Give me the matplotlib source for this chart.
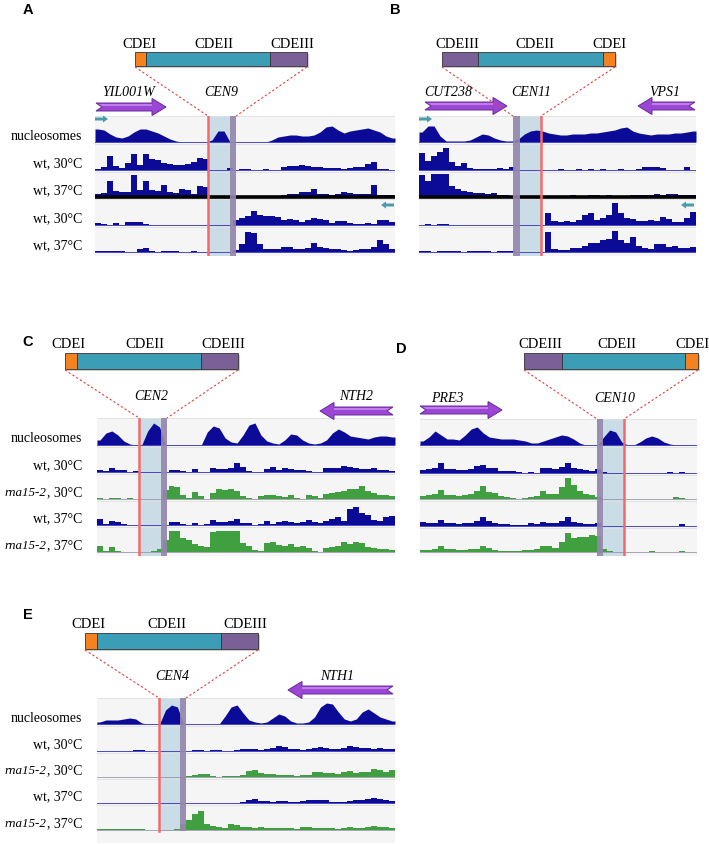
import numpy as np
import matplotlib.pyplot as plt
from matplotlib.patches import Rectangle, Polygon

plt.rcParams['font.family'] = ['Liberation Serif', 'DejaVu Serif']

# ---- track profiles (pixel heights above each baseline) ----
# panel A (CEN9)
a_nuc = [13, 12, 8, 5, 4, 6, 10, 13, 13, 11, 9, 6, 3, 1, 0, 0, 0, 0, 0, 2,
         11, 11, 0, 0, 0, 0, 0, 0, 0, 2, 5, 6, 7, 7, 6, 6, 7, 10, 15, 16,
         12, 9, 11, 12, 13, 14, 12, 10, 6, 4]
a_wt30 = [1, 3, 14, 4, 2, 7, 16, 5, 16, 11, 10, 7, 6, 5, 5, 6, 8, 12, 11, 0,
          0, 0, 2, 0, 1, 1, 0, 0, 1, 0, 0, 3, 4, 4, 5, 4, 3, 3, 2, 2,
          2, 1, 2, 3, 3, 6, 8, 1, 1, 0]
a_wt37 = [3, 4, 16, 6, 5, 5, 22, 7, 16, 7, 6, 12, 5, 4, 8, 7, 3, 11, 10, 0,
          0, 0, 0, 0, 1, 1, 1, 1, 1, 1, 1, 2, 3, 3, 5, 5, 8, 3, 3, 2,
          3, 5, 4, 3, 3, 3, 12, 2, 2, 2]
a_wt30_rev = [2, 1, 0, 2, 0, 3, 3, 3, 1, 0, 0, 0, 0, 0, 0, 0, 0, 0, 0, 0,
              0, 0, 0, 5, 7, 9, 14, 10, 9, 9, 8, 5, 6, 5, 3, 5, 7, 6, 5, 2,
              4, 4, 2, 1, 1, 2, 1, 5, 5, 3]
a_wt37_rev = [1, 1, 1, 1, 1, 0, 0, 3, 4, 1, 0, 1, 1, 1, 0, 0, 1, 0, 0, 0,
              0, 0, 0, 2, 8, 20, 19, 8, 3, 3, 3, 5, 5, 3, 3, 4, 9, 5, 4, 3,
              3, 2, 1, 2, 3, 3, 5, 12, 8, 3]

# panel B (CEN11)
b_nuc = [10, 16, 16, 6, 1, 1, 1, 1, 2, 5, 8, 7, 4, 2, 1, 1, 3, 8, 11, 12,
         11, 9, 8, 7, 7, 8, 8, 8, 9, 9, 10, 11, 12, 14, 15, 11, 9, 8, 7, 8,
         8, 8, 9, 9, 10, 11]
b_wt30 = [17, 9, 14, 18, 22, 8, 4, 7, 2, 1, 1, 1, 1, 2, 1, 3, 0, 0, 0, 0,
          0, 0, 0, 1, 0, 0, 1, 0, 1, 0, 1, 0, 0, 1, 0, 0, 1, 3, 3, 3,
          2, 0, 0, 0, 3, 0]
b_wt37 = [22, 16, 23, 23, 23, 11, 8, 6, 5, 4, 4, 3, 4, 2, 2, 1, 1, 1, 1, 1,
          1, 1, 1, 1, 1, 2, 1, 1, 2, 2, 1, 2, 1, 1, 1, 2, 2, 2, 2, 3,
          2, 3, 3, 2, 2, 2]
b_wt30_rev = [0, 1, 0, 1, 1, 0, 0, 0, 0, 0, 0, 0, 0, 0, 0, 0, 0, 0, 0, 0,
              0, 12, 4, 3, 4, 3, 5, 10, 12, 5, 7, 10, 22, 12, 7, 6, 4, 4, 5, 4,
              8, 6, 3, 3, 7, 13]
b_wt37_rev = [1, 1, 0, 1, 1, 1, 1, 0, 1, 1, 1, 1, 0, 1, 1, 1, 0, 0, 0, 0,
              0, 20, 3, 2, 2, 4, 4, 6, 9, 9, 12, 13, 21, 12, 9, 15, 6, 4, 3, 8,
              8, 5, 6, 4, 4, 5]

# panel C (CEN2)
c_nuc = [5, 12, 14, 10, 4, 1, 0, 0, 14, 22, 18, 0, 0, 0, 0, 0, 0, 0, 13, 19,
         17, 7, 3, 2, 10, 20, 22, 10, 4, 2, 1, 5, 11, 10, 5, 2, 1, 2, 5, 12,
         16, 13, 9, 8, 7, 6, 8, 9, 9, 8]
c_wt30 = [2, 1, 4, 2, 2, 0, 1, 0, 0, 0, 0, 0, 2, 2, 1, 0, 3, 0, 0, 4,
          3, 3, 4, 9, 5, 1, 0, 0, 3, 5, 2, 4, 3, 2, 2, 1, 0, 0, 4, 4,
          4, 6, 5, 4, 3, 3, 4, 2, 2, 1]
c_rna30 = [1, 0, 1, 1, 0, 1, 0, 0, 0, 0, 0, 9, 13, 12, 4, 1, 7, 3, 0, 6,
           10, 9, 10, 8, 3, 1, 0, 3, 4, 4, 3, 2, 4, 1, 0, 4, 3, 1, 5, 6,
           7, 8, 10, 10, 13, 8, 6, 4, 4, 3]
c_wt37 = [6, 1, 4, 3, 1, 0, 0, 0, 0, 0, 0, 0, 3, 3, 1, 0, 2, 0, 1, 5,
          3, 3, 4, 6, 2, 2, 0, 1, 4, 1, 3, 4, 3, 2, 3, 5, 3, 2, 4, 6,
          8, 4, 16, 18, 12, 10, 5, 4, 8, 9]
c_rna37 = [6, 1, 5, 1, 0, 0, 0, 0, 0, 1, 3, 12, 21, 21, 14, 12, 8, 6, 5, 20,
           21, 21, 21, 21, 9, 6, 2, 1, 9, 10, 7, 6, 8, 5, 6, 4, 1, 0, 4, 5,
           6, 10, 8, 10, 9, 5, 4, 3, 3, 2]

# panel D (CEN10)
d_nuc = [4, 8, 14, 10, 6, 6, 5, 10, 16, 18, 12, 8, 7, 6, 6, 6, 5, 4, 2, 2,
         4, 6, 8, 10, 9, 6, 2, 0, 0, 0, 8, 15, 13, 3, 0, 0, 3, 7, 9, 7,
         3, 1, 0, 0, 0, 0]
d_wt30 = [3, 4, 5, 10, 4, 4, 3, 3, 4, 7, 8, 5, 5, 2, 2, 2, 1, 0, 1, 0,
          5, 5, 4, 6, 10, 5, 4, 3, 2, 4, 1, 0, 0, 0, 0, 0, 0, 0, 0, 0,
          0, 1, 0, 1, 0, 0]
d_rna30 = [3, 4, 5, 9, 4, 4, 3, 4, 5, 8, 13, 7, 6, 3, 2, 1, 0, 1, 2, 3,
           8, 5, 5, 12, 21, 14, 8, 5, 4, 2, 0, 0, 0, 0, 0, 0, 0, 0, 0, 0,
           0, 0, 2, 1, 0, 0]
d_wt37 = [4, 3, 3, 6, 3, 3, 2, 3, 3, 5, 9, 5, 3, 2, 2, 1, 1, 1, 3, 2,
          4, 3, 3, 5, 9, 4, 3, 2, 2, 3, 0, 0, 0, 0, 0, 0, 0, 0, 0, 0,
          0, 0, 0, 2, 0, 0]
d_rna37 = [2, 2, 3, 6, 3, 3, 2, 2, 3, 3, 6, 4, 2, 1, 1, 1, 1, 2, 2, 3,
           6, 6, 4, 10, 19, 14, 15, 15, 17, 16, 3, 1, 0, 0, 0, 0, 0, 0, 1, 0,
           0, 0, 0, 1, 0, 0]

# panel E (CEN4)
e_nuc = [2, 4, 4, 4, 5, 6, 5, 1, 0, 0, 0, 14, 19, 17, 0, 0, 0, 0, 0, 0,
         0, 8, 17, 19, 11, 4, 2, 1, 2, 6, 10, 8, 3, 1, 1, 2, 7, 17, 21, 20,
         12, 5, 3, 5, 12, 15, 11, 7, 5, 3]
e_wt30 = [0, 0, 0, 0, 0, 0, 1, 1, 0, 0, 0, 0, 0, 0, 0, 0, 1, 1, 0, 1,
          1, 0, 0, 1, 2, 2, 2, 1, 2, 3, 5, 4, 2, 2, 1, 2, 3, 4, 3, 2,
          2, 3, 5, 4, 3, 3, 2, 3, 2, 2]
e_rna30 = [0, 0, 0, 0, 0, 0, 0, 0, 0, 0, 0, 0, 0, 0, 0, 1, 2, 3, 3, 1,
           0, 1, 1, 1, 2, 6, 7, 4, 3, 3, 2, 2, 2, 1, 2, 2, 5, 5, 4, 4,
           3, 5, 6, 4, 5, 5, 8, 7, 5, 7]
e_wt37 = [0, 0, 0, 0, 0, 0, 0, 0, 0, 0, 0, 0, 0, 0, 0, 0, 0, 0, 0, 0,
          0, 0, 0, 0, 1, 3, 4, 2, 2, 1, 2, 2, 1, 1, 2, 3, 3, 3, 3, 1,
          1, 1, 2, 3, 3, 4, 5, 4, 3, 2]
e_rna37 = [1, 1, 1, 1, 1, 1, 1, 1, 0, 0, 0, 0, 0, 1, 6, 10, 16, 19, 6, 4,
           3, 2, 6, 5, 3, 3, 2, 3, 2, 2, 2, 2, 2, 1, 3, 3, 2, 2, 2, 2,
           1, 2, 3, 2, 2, 3, 4, 3, 3, 2]

labels_wt = [('', 'nucleosomes'), ('', 'wt, 30°C'), ('', 'wt, 37°C'),
             ('', 'wt, 30°C'), ('', 'wt, 37°C')]
labels_rna = [('', 'nucleosomes'), ('', 'wt, 30°C'), ('rna15-2', ', 30°C'),
              ('', 'wt, 37°C'), ('rna15-2', ', 37°C')]

BLUE = '#0b0b98'
GREEN = '#40a040'
ORANGE = '#f5821f'
TEAL = '#3b9db6'
PURP = '#7b5f97'
BG = '#f5f5f5'

W, H = 709, 844
fig = plt.figure(figsize=(W / 100, H / 100), dpi=100)
ax0 = fig.add_axes([0, 0, 1, 1], zorder=10)
ax0.set_xlim(0, W)
ax0.set_ylim(H, 0)
ax0.axis('off')


def px_axes(x0, y0, x1, y1):
    return fig.add_axes([x0 / W, 1 - y1 / H, (x1 - x0) / W, (y1 - y0) / H])


def gene_arrow(xs, xe, yc):
    d = 1 if xe > xs else -1
    L = abs(xe - xs)
    hl, sh, hh, nd = 14, 4, 8.5, 6
    pts = [(0, -sh), (L - hl, -sh), (L - hl, -hh), (L, 0), (L - hl, hh),
           (L - hl, sh), (0, sh), (nd, 0)]
    pts = [(xs + d * u, yc + v) for u, v in pts]
    ax0.add_patch(Polygon(pts, closed=True, fc='#9c46d6', ec='#66299a', lw=0.7))
    # lighter upper half of the shaft
    hi = [(nd * 0.5, -sh + 0.8), (L - hl, -sh + 0.8), (L - hl, -1), (nd, -1)]
    hi = [(xs + d * u, yc + v) for u, v in hi]
    ax0.add_patch(Polygon(hi, closed=True, fc='#c07ee8', ec='none'))


def small_arrow(xs, xe, yc):
    d = 1 if xe > xs else -1
    L = abs(xe - xs)
    pts = [(0, -1.5), (L - 5, -1.5), (L - 5, -3.5), (L, 0), (L - 5, 3.5),
           (L - 5, 1.5), (0, 1.5)]
    pts = [(xs + d * u, yc + v) for u, v in pts]
    ax0.add_patch(Polygon(pts, closed=True, fc='#4a9caa', ec='none'))


panels = [
    dict(letter='A', lxy=(28, 10), x0=95, x1=395, top=116, bottom=256,
         base=[142, 170, 197, 225, 252],
         tracks=[a_nuc, a_wt30, a_wt37, a_wt30_rev, a_wt37_rev],
         colors=[BLUE] * 5, labels=labels_wt, thick=2,
         red=208, lblue=(208, 230), purp=(230, 236),
         bar=(52, 66, [(135, 146, ORANGE), (146, 270, TEAL), (270, 307, PURP)]),
         cde=[('CDEI', 139), ('CDEII', 214), ('CDEIII', 292)],
         dash=((135, 208), (307, 236)),
         genes=[('YIL001W', 129, 93), ('CEN9', 221, 93)],
         arrows=[(96, 166, 107)], small=[(95, 108, 119), (394, 381, 205)]),
    dict(letter='B', lxy=(395, 10), x0=419, x1=696, top=116, bottom=256,
         base=[142, 170, 197, 225, 252],
         tracks=[b_nuc, b_wt30, b_wt37, b_wt30_rev, b_wt37_rev],
         colors=[BLUE] * 5, labels=None, thick=2,
         red=541, lblue=(520, 541), purp=(513, 520),
         bar=(52, 66, [(442, 478, PURP), (478, 603, TEAL), (603, 615, ORANGE)]),
         cde=[('CDEIII', 457), ('CDEII', 535), ('CDEI', 609)],
         dash=((442, 513), (615, 541)),
         genes=[('CUT238', 448, 93), ('CEN11', 531, 93), ('VPS1', 665, 93)],
         arrows=[(425, 507, 106), (695, 638, 106)],
         small=[(419, 432, 119), (694, 681, 205)]),
    dict(letter='C', lxy=(28, 342), x0=97, x1=395, top=418, bottom=556,
         base=[445, 472, 499, 525, 552],
         tracks=[c_nuc, c_wt30, c_rna30, c_wt37, c_rna37],
         colors=[BLUE, BLUE, GREEN, BLUE, GREEN], labels=labels_rna, thick=None,
         red=139, lblue=(139, 161), purp=(161, 167),
         bar=(353, 369, [(65, 77, ORANGE), (77, 201, TEAL), (201, 238, PURP)]),
         cde=[('CDEI', 68), ('CDEII', 145), ('CDEIII', 223)],
         dash=((65, 139), (238, 167)),
         genes=[('CEN2', 151, 396), ('NTH2', 356, 396)],
         arrows=[(393, 320, 411)], small=[]),
    dict(letter='D', lxy=(401, 349), x0=420, x1=697, top=419, bottom=556,
         base=[445, 473, 499, 526, 552],
         tracks=[d_nuc, d_wt30, d_rna30, d_wt37, d_rna37],
         colors=[BLUE, BLUE, GREEN, BLUE, GREEN], labels=None, thick=None,
         red=624, lblue=(603, 624), purp=(597, 603),
         bar=(353, 369, [(524, 562, PURP), (562, 685, TEAL), (685, 698, ORANGE)]),
         cde=[('CDEIII', 540), ('CDEII', 617), ('CDEI', 692)],
         dash=((524, 597), (698, 624)),
         genes=[('PRE3', 447, 398), ('CEN10', 615, 398)],
         arrows=[(420, 502, 410)], small=[]),
    dict(letter='E', lxy=(28, 615), x0=97, x1=395, top=698, bottom=843,
         base=[724, 751, 777, 803, 830],
         tracks=[e_nuc, e_wt30, e_rna30, e_wt37, e_rna37],
         colors=[BLUE, BLUE, GREEN, BLUE, GREEN], labels=labels_rna, thick=None,
         red=159, lblue=(159, 180), purp=(180, 186),
         bar=(633, 649, [(85, 97, ORANGE), (97, 221, TEAL), (221, 258, PURP)]),
         cde=[('CDEI', 88), ('CDEII', 167), ('CDEIII', 245)],
         dash=((85, 159), (258, 186)),
         genes=[('CEN4', 172, 676), ('NTH1', 337, 676)],
         arrows=[(393, 288, 690)], small=[]),
]

renderer = fig.canvas.get_renderer()

for p in panels:
    n = len(p['tracks'][0])
    x = np.arange(n + 1)
    xc = np.concatenate([[0], np.arange(n) + 0.5, [n]])
    sc = n / (p['x1'] - p['x0'])

    def tobin(v):
        return (v - p['x0']) * sc

    tops = [p['top']] + [b + 2 for b in p['base'][:-1]]
    for i, (trk, col) in enumerate(zip(p['tracks'], p['colors'])):
        b = p['base'][i]
        bot = b + 2 if i < 4 else p['bottom']
        ax = px_axes(p['x0'], tops[i], p['x1'], bot)
        ax.set_xlim(0, n)
        ax.set_ylim(-(bot - b), b - tops[i])
        ax.set_facecolor(BG)
        ax.set_xticks([])
        ax.set_yticks([])
        for s in ax.spines.values():
            s.set_visible(False)
        ax.axhline(b - tops[i], color='#e0e0e0', lw=0.6, zorder=1)
        # vertical extent of the centromere bands inside this row
        frac = (bot - b - 1) / (bot - tops[i]) if bot - b > 6 else 0
        ax.axvspan(tobin(p['lblue'][0]), tobin(p['lblue'][1]), ymin=frac,
                   color='#cadde7', lw=0, zorder=0.5)
        ax.axvspan(tobin(p['purp'][0]), tobin(p['purp'][1]), ymin=frac,
                   color='#9486ab', alpha=0.92, lw=0, zorder=3)
        ax.axvline(tobin(p['red']), ymin=frac, color='#f26b6b', lw=1.8, zorder=4)
        if i == 0:
            # nucleosome occupancy is smooth
            ax.fill_between(xc, 0, [trk[0]] + list(trk) + [trk[-1]], color=col, lw=0, zorder=2)
        else:
            ax.fill_between(x, 0, np.append(trk, trk[-1]), step='post', color=col, lw=0, zorder=2)
        if p['thick'] == i:
            ax.axhline(0, color='black', lw=2.6, zorder=2.5)
        elif col == BLUE:
            ax.axhline(0, color='#4848c8', lw=0.7, zorder=2.5)
        else:
            ax.axhline(0, color='#9898ac', lw=0.6, zorder=2.5)

        if p['labels']:
            it, reg = p['labels'][i]
            t = ax0.text(82, b - 6, reg, ha='right', va='center', fontsize=10)
            if it:
                bb = t.get_window_extent(renderer)
                xl = ax0.transData.inverted().transform((bb.x0, bb.y0))[0]
                ax0.text(xl, b - 6, it, ha='right', va='center', fontsize=9.4, style='italic')

    # panel letter
    ax0.text(*p['lxy'], p['letter'], ha='center', va='center', fontsize=10.5,
             fontweight='bold', family='Liberation Sans')

    # centromere element bar
    yt, yb, segs = p['bar']
    ax0.add_patch(Rectangle((segs[0][0] + 1.5, yt + 1.5), segs[-1][1] - segs[0][0], yb - yt,
                            fc='#777777', ec='none', alpha=0.35))
    for s0, s1, c in segs:
        ax0.add_patch(Rectangle((s0, yt), s1 - s0, yb - yt, fc=c, ec='#333333', lw=0.6))
    for txt, cx in p['cde']:
        ax0.text(cx, yt - 8, txt, ha='center', va='center', fontsize=10.5)
    (bl, tl), (br, tr) = p['dash']
    ax0.plot([bl, tl], [yb + 1, p['top']], color='#e0403a', lw=0.8, ls=(0, (2, 2)))
    ax0.plot([br, tr], [yb + 1, p['top']], color='#e0403a', lw=0.8, ls=(0, (2, 2)))

    for txt, cx, cy in p['genes']:
        ax0.text(cx, cy, txt, ha='center', va='center', fontsize=10, style='italic')
    for xs, xe, yc in p['arrows']:
        gene_arrow(xs, xe, yc)
    for xs, xe, yc in p['small']:
        small_arrow(xs, xe, yc)

fig.savefig('out.png', dpi=100)
